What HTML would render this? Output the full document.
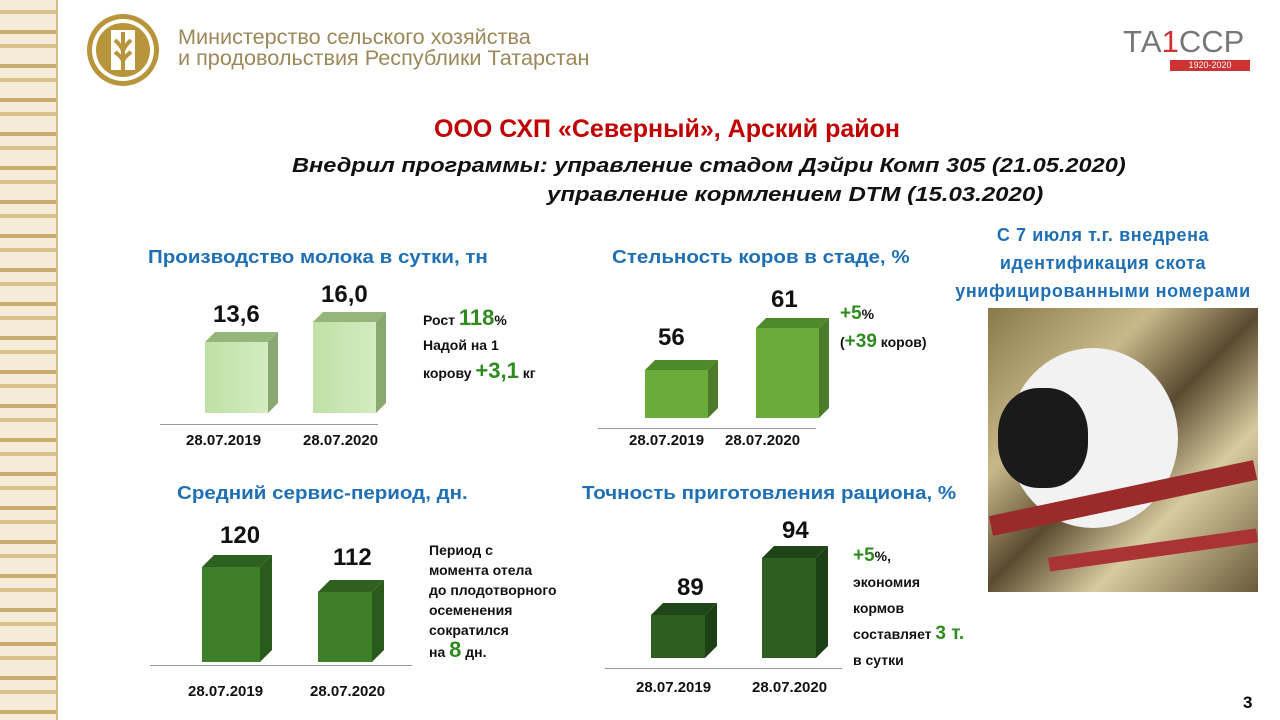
<!DOCTYPE html>
<html><head><meta charset="utf-8"><style>
*{margin:0;padding:0;box-sizing:border-box}
body{width:1280px;height:720px;background:#fff;position:relative;overflow:hidden;font-family:"Liberation Sans","DejaVu Sans",sans-serif}
.a{position:absolute;white-space:nowrap}
.b{font-weight:bold}
.blue{color:#1f6fb5;font-weight:bold;font-size:18px;transform:scaleX(1.14);transform-origin:left top}
.val{font-weight:bold;font-size:24px;color:#111}
.dt{font-weight:bold;font-size:15px;color:#111}
.note{font-weight:bold;font-size:14px;color:#111;line-height:22px}
.g{color:#2f8a1f;font-size:22px}
.line{position:absolute;height:1px;background:#999}
</style></head><body>
<div class="a" style="left:0;top:0;width:58px;height:720px;background:repeating-linear-gradient(180deg,#f4ecd8 0 10px,#d9c28c 10px 14px,#f4ecd8 14px 30px,#c9ad6e 30px 34px);border-right:2px solid #d4bc84"></div>
<svg class="a" style="left:85px;top:12px" width="76" height="76"><circle cx="38" cy="38" r="36" fill="#b8953a"/><circle cx="38" cy="38" r="31" fill="#fff"/><circle cx="38" cy="38" r="27" fill="#b8953a"/><rect x="26" y="18" width="24" height="40" fill="#fff"/><path d="M38 20 V58 M30 28 Q38 36 38 40 M46 28 Q38 36 38 40 M30 40 Q38 46 38 50 M46 40 Q38 46 38 50" stroke="#b8953a" stroke-width="4" fill="none"/></svg>
<div class="a" style="left:178px;top:27px;font-size:21px;color:#9b8858;line-height:21px;transform:scaleX(1.03);transform-origin:left top">Министерство сельского хозяйства<br>и продовольствия Республики Татарстан</div>
<div class="a" style="left:1123px;top:24px;font-size:31px;color:#777">ТА<span style="color:#c33">1</span>ССР</div>
<div class="a" style="left:1170px;top:60px;width:80px;height:11px;background:#c33;color:#fff;font-size:9px;text-align:center;line-height:11px">1920-2020</div>
<div class="a b" style="left:434px;top:115px;font-size:25px;color:#c00000">ООО СХП «Северный», Арский район</div>
<div class="a b" style="left:292px;top:155px;font-size:20px;font-style:italic;color:#111;transform:scaleX(1.18);transform-origin:left top">Внедрил программы: управление стадом Дэйри Комп 305 (21.05.2020)</div>
<div class="a b" style="left:547px;top:184px;font-size:20px;font-style:italic;color:#111;transform:scaleX(1.2);transform-origin:left top">управление кормлением DTM (15.03.2020)</div>
<div class="a b" style="left:926px;top:221px;width:354px;text-align:center;font-size:18px;color:#1f6fb5;line-height:28px;letter-spacing:0.6px">С 7 июля т.г. внедрена<br>идентификация скота<br>унифицированными номерами</div>
<div class="a" style="left:988px;top:308px;width:270px;height:284px;background:linear-gradient(135deg,#8a7a4a,#c9b88a 30%,#5a4a30 50%,#d8cba0 70%,#6a5a3a);overflow:hidden">
<div class="a" style="left:20px;top:40px;width:170px;height:180px;border-radius:50%;background:#f2f2f2"></div>
<div class="a" style="left:10px;top:80px;width:90px;height:100px;border-radius:45%;background:#1a1a1a"></div>
<div class="a" style="left:0;top:180px;width:270px;height:20px;background:#9b2a2a;transform:rotate(-12deg)"></div>
<div class="a" style="left:60px;top:235px;width:210px;height:14px;background:#a33;transform:rotate(-8deg)"></div>
</div>
<div class="a blue" style="left:148px;top:247px">Производство молока в сутки, тн</div>
<div class="a blue" style="left:612px;top:247px">Стельность коров в стаде, %</div>
<div class="a blue" style="left:177px;top:483px">Средний сервис-период, дн.</div>
<div class="a blue" style="left:582px;top:483px">Точность приготовления рациона, %</div>
<svg class="a" style="left:0;top:0" width="1280" height="720">
<defs>
<linearGradient id="l1" x1="0" x2="1"><stop offset="0" stop-color="#bfe0a6"/><stop offset="1" stop-color="#d4ecc0"/></linearGradient>
</defs>
<g><path d="M205 342 l10 -10 h63 l-10 10z" fill="#95b67a"/><path d="M268 342 l10 -10 v71 l-10 10z" fill="#8aa872"/><rect x="205" y="342" width="63" height="71" fill="url(#l1)"/></g>
<g><path d="M313 322 l10 -10 h63 l-10 10z" fill="#95b67a"/><path d="M376 322 l10 -10 v91 l-10 10z" fill="#8aa872"/><rect x="313" y="322" width="63" height="91" fill="url(#l1)"/></g>
<g><path d="M645 370 l10 -10 h63 l-10 10z" fill="#4f8a2a"/><path d="M708 370 l10 -10 v48 l-10 10z" fill="#4a7a2a"/><rect x="645" y="370" width="63" height="48" fill="#6aab3a"/></g>
<g><path d="M756 328 l10 -10 h63 l-10 10z" fill="#4f8a2a"/><path d="M819 328 l10 -10 v90 l-10 10z" fill="#4a7a2a"/><rect x="756" y="328" width="63" height="90" fill="#6aab3a"/></g>
<g><path d="M202 567 l12 -12 h58 l-12 12z" fill="#2e6020"/><path d="M260 567 l12 -12 v95 l-12 12z" fill="#2a5a1e"/><rect x="202" y="567" width="58" height="95" fill="#3f7f2a"/></g>
<g><path d="M318 592 l12 -12 h54 l-12 12z" fill="#2e6020"/><path d="M372 592 l12 -12 v70 l-12 12z" fill="#2a5a1e"/><rect x="318" y="592" width="54" height="70" fill="#3f7f2a"/></g>
<g><path d="M651 615 l12 -12 h54 l-12 12z" fill="#1f4518"/><path d="M705 615 l12 -12 v43 l-12 12z" fill="#1d3f16"/><rect x="651" y="615" width="54" height="43" fill="#2f5e22"/></g>
<g><path d="M762 558 l12 -12 h54 l-12 12z" fill="#1f4518"/><path d="M816 558 l12 -12 v100 l-12 12z" fill="#1d3f16"/><rect x="762" y="558" width="54" height="100" fill="#2f5e22"/></g>
</svg>
<div class="line" style="left:160px;top:424px;width:218px"></div>
<div class="line" style="left:598px;top:428px;width:218px"></div>
<div class="line" style="left:150px;top:665px;width:262px"></div>
<div class="line" style="left:605px;top:668px;width:237px"></div>
<div class="a val" style="left:213px;top:301px">13,6</div>
<div class="a val" style="left:321px;top:281px">16,0</div>
<div class="a val" style="left:658px;top:324px">56</div>
<div class="a val" style="left:771px;top:286px">61</div>
<div class="a val" style="left:220px;top:522px">120</div>
<div class="a val" style="left:333px;top:544px">112</div>
<div class="a val" style="left:677px;top:574px">89</div>
<div class="a val" style="left:782px;top:517px">94</div>
<div class="a dt" style="left:186px;top:432px">28.07.2019</div>
<div class="a dt" style="left:303px;top:432px">28.07.2020</div>
<div class="a dt" style="left:629px;top:432px">28.07.2019</div>
<div class="a dt" style="left:725px;top:432px">28.07.2020</div>
<div class="a dt" style="left:188px;top:683px">28.07.2019</div>
<div class="a dt" style="left:310px;top:683px">28.07.2020</div>
<div class="a dt" style="left:636px;top:679px">28.07.2019</div>
<div class="a dt" style="left:752px;top:679px">28.07.2020</div>
<div class="a note" style="left:423px;top:305px;line-height:25px">Рост <span class="g">118</span>%<br>Надой на 1<br>корову <span class="g">+3,1</span> кг</div>
<div class="a note" style="left:840px;top:300px;line-height:28px"><span class="g" style="font-size:19px">+5</span>%<br>(<span class="g" style="font-size:19px">+39</span> коров)</div>
<div class="a note" style="left:429px;top:540px;line-height:20px">Период с<br>момента отела<br>до плодотворного<br>осеменения<br>сократился<br>на <span class="g">8</span> дн.</div>
<div class="a note" style="left:853px;top:543px;line-height:26px"><span class="g" style="font-size:19px">+5</span>%,<br>экономия<br>кормов<br>составляет <span class="g" style="font-size:19px">3 т.</span><br>в сутки</div>
<div class="a b" style="left:1243px;top:693px;font-size:17px">3</div>
</body></html>
